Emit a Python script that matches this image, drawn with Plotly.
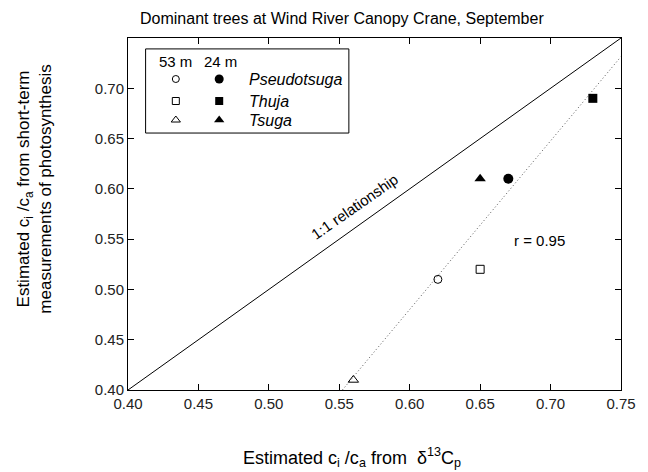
import numpy as np
import plotly.graph_objects as go

# ---- data ----
species = ["Pseudotsuga", "Thuja", "Tsuga"]
x_53m = [0.62, 0.65, 0.56]     # ci/ca from d13C, 53 m
y_53m = [0.51, 0.52, 0.41]     # ci/ca from gas exchange, 53 m
x_24m = [0.67, 0.73, 0.65]     # 24 m
y_24m = [0.61, 0.69, 0.61]
open_symbols = ["circle-open", "square-open", "triangle-up-open"]
filled_symbols = ["circle", "square", "triangle-up"]
x_ticks = [0.40, 0.45, 0.50, 0.55, 0.60, 0.65, 0.70, 0.75]
y_ticks = [0.40, 0.45, 0.50, 0.55, 0.60, 0.65, 0.70]
axis_range = [0.40, 0.75]
r_value = 0.95

FONT = "Liberation Sans, Arial, sans-serif"

fig = go.Figure()

# 1:1 line
fig.add_trace(go.Scatter(x=axis_range, y=axis_range, mode="lines",
                         line=dict(color="black", width=1), showlegend=False, hoverinfo="skip"))

# regression line through all points
all_x = np.array(x_53m + x_24m)
all_y = np.array(y_53m + y_24m)
slope, intercept = np.polyfit(all_x, all_y, 1)
x_lo = (axis_range[0] - intercept) / slope
fit_x = np.array([x_lo, axis_range[1]])
fig.add_trace(go.Scatter(x=fit_x, y=slope * fit_x + intercept, mode="lines",
                         line=dict(color="#555", width=1, dash="1px,2.5px"),
                         showlegend=False, hoverinfo="skip"))

open_sizes = [8, 8, 9]
filled_sizes = [10, 9, 10]
for i, sp in enumerate(species):
    fig.add_trace(go.Scatter(x=[x_53m[i]], y=[y_53m[i]], mode="markers",
                             marker=dict(symbol=open_symbols[i], size=open_sizes[i], color="black",
                                         line=dict(width=1, color="black")),
                             showlegend=False))
    fig.add_trace(go.Scatter(x=[x_24m[i]], y=[y_24m[i]], mode="markers",
                             marker=dict(symbol=filled_symbols[i], size=filled_sizes[i], color="black"),
                             showlegend=False))

# ---- custom legend (overlay axes in plot-area fractions) ----
leg_rows_y = [0.8835, 0.821, 0.767]
leg_col_open = 0.097
leg_col_filled = 0.185
for i, sp in enumerate(species):
    fig.add_trace(go.Scatter(x=[leg_col_open], y=[leg_rows_y[i]], xaxis="x2", yaxis="y2", mode="markers",
                             marker=dict(symbol=open_symbols[i], size=open_sizes[i] - 1, color="black",
                                         line=dict(width=1, color="black")),
                             showlegend=False, hoverinfo="skip"))
    fig.add_trace(go.Scatter(x=[leg_col_filled], y=[leg_rows_y[i]], xaxis="x2", yaxis="y2", mode="markers",
                             marker=dict(symbol=filled_symbols[i], size=filled_sizes[i] - 1, color="black"),
                             showlegend=False, hoverinfo="skip"))

annotations = []
for i, sp in enumerate(species):
    annotations.append(dict(x=0.241, y=leg_rows_y[i], xref="paper", yref="paper",
                            text=f"<i>{sp}</i>", showarrow=False, xanchor="left", yanchor="middle",
                            font=dict(size=16, family=FONT, color="black")))
annotations.append(dict(x=0.058, y=0.933, xref="paper", yref="paper", text="53 m",
                        showarrow=False, xanchor="left", yanchor="middle",
                        font=dict(size=15, family=FONT, color="black")))
annotations.append(dict(x=0.151, y=0.933, xref="paper", yref="paper", text="24 m",
                        showarrow=False, xanchor="left", yanchor="middle",
                        font=dict(size=15, family=FONT, color="black")))

# title
annotations.append(dict(x=0.4345, y=1.055, xref="paper", yref="paper",
                        text="Dominant trees at Wind River Canopy Crane, September",
                        showarrow=False, xanchor="center", yanchor="middle",
                        font=dict(size=16, family=FONT, color="black")))
# y title
annotations.append(dict(x=-0.19, y=0.57, xref="paper", yref="paper",
                        text="Estimated c<sub>i</sub> /c<sub>a</sub> from short-term<br>measurements of photosynthesis",
                        showarrow=False, textangle=-90, xanchor="center", yanchor="middle",
                        font=dict(size=17, family=FONT, color="black")))
# x title
annotations.append(dict(x=0.454, y=-0.193, xref="paper", yref="paper",
                        text="Estimated c<sub>i</sub> /c<sub>a</sub> from  δ<sup>13</sup>C<sub>p</sub>",
                        showarrow=False, xanchor="center", yanchor="middle",
                        font=dict(size=18, family=FONT, color="black")))
# line labels
annotations.append(dict(x=0.561, y=0.582, xref="x", yref="y", text="1:1 relationship",
                        showarrow=False, textangle=-35, xanchor="center", yanchor="middle",
                        font=dict(size=15, family=FONT, color="black")))
annotations.append(dict(x=0.692, y=0.549, xref="x", yref="y", text=f"r = {r_value:.2f}",
                        showarrow=False, xanchor="center", yanchor="middle",
                        font=dict(size=15, family=FONT, color="black")))

axis_common = dict(range=axis_range, showgrid=False, zeroline=False, showline=True,
                   linecolor="black", linewidth=1, mirror="ticks", ticks="inside",
                   ticklen=6, tickcolor="black", tickwidth=1,
                   tickfont=dict(size=15, family=FONT, color="#222"))

fig.update_layout(
    width=648, height=472,
    margin=dict(l=128, r=16, t=38, b=82),
    paper_bgcolor="white", plot_bgcolor="white",
    showlegend=False,
    xaxis=dict(**axis_common, tickvals=x_ticks, ticktext=[f"{v:.2f}" for v in x_ticks]),
    yaxis=dict(**axis_common, tickvals=y_ticks, ticktext=[f"{v:.2f}" for v in y_ticks]),
    xaxis2=dict(overlaying="x", range=[0, 1], visible=False, fixedrange=True),
    yaxis2=dict(overlaying="y", range=[0, 1], visible=False, fixedrange=True),
    annotations=annotations,
    shapes=[dict(type="rect", xref="paper", yref="paper", x0=0.0357, x1=0.448, y0=0.730, y1=0.969,
                 line=dict(color="black", width=1), fillcolor="white", layer="below")],
)

fig.write_html("out.html")
